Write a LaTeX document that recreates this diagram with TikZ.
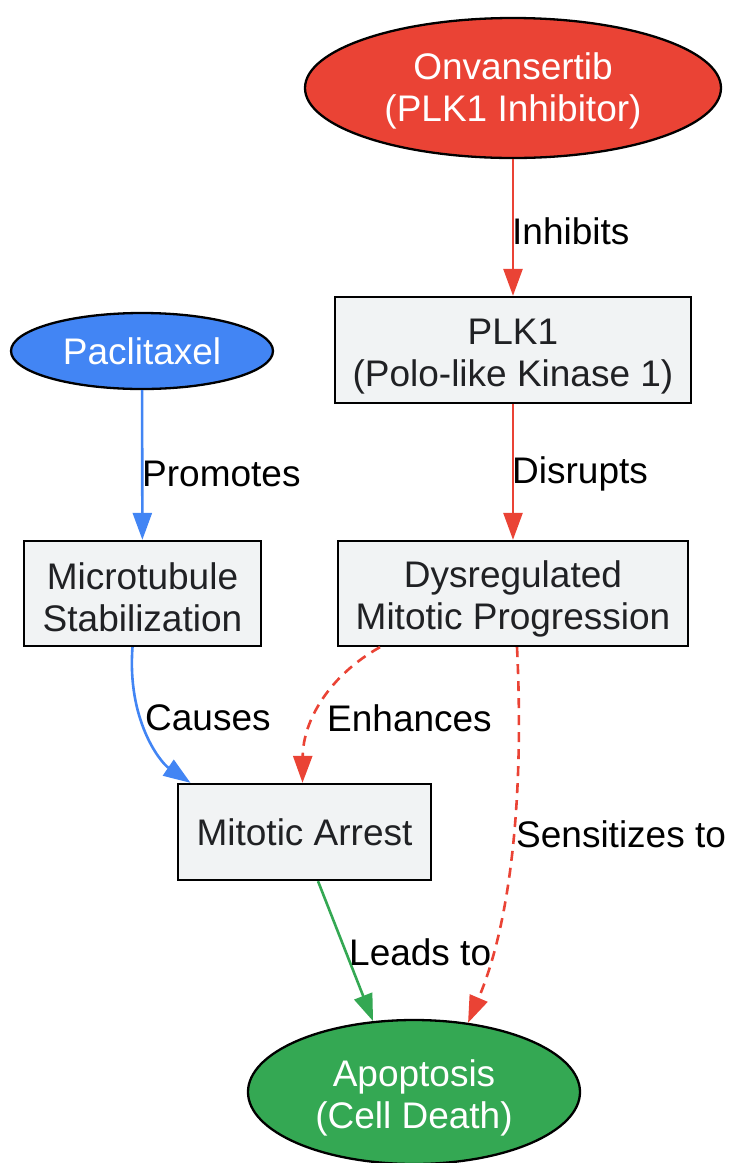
\documentclass[tikz,border=0pt]{standalone}
\usepackage{fontspec}
\setmainfont{Liberation Sans}
\usetikzlibrary{shapes.geometric,arrows.meta}

\definecolor{drugred}{HTML}{EA4335}
\definecolor{drugblue}{HTML}{4285F4}
\definecolor{deathgreen}{HTML}{34A853}
\definecolor{boxgray}{HTML}{F1F3F4}
\definecolor{boxtext}{HTML}{202124}

% 一行目を下げるための支柱
\newcommand{\firstrow}[1]{\rule{0pt}{#1}}

\begin{document}
\begin{tikzpicture}[x=1pt,y=-1pt,
    font=\fontsize{37}{42}\selectfont,
    drug/.style={ellipse, draw=black, line width=2.3pt, text=white, align=center, inner sep=0pt},
    proc/.style={rectangle, draw=black, line width=2.3pt, fill=boxgray, text=boxtext, align=center, inner sep=0pt},
    lbl/.style={anchor=west, inner sep=0pt, text=black},
    link/.style={line width=2.6pt, -{Triangle[length=27pt,width=19pt]}},
    weak/.style={link, dash pattern=on 10pt off 7pt}]
    \useasboundingbox (0,0) rectangle (729,1163);

    % 薬剤
    \node[drug, fill=drugred, minimum width=416pt, minimum height=140pt] (onv) at (513,88) {\firstrow{33pt}Onvansertib\\(PLK1 Inhibitor)};
    \node[drug, fill=drugblue, minimum width=262pt, minimum height=76pt] (pac) at (142,351) {Paclitaxel};

    % 過程
    \node[proc, minimum width=356pt, minimum height=106pt] (plk) at (513,350) {\firstrow{38.5pt}PLK1\\(Polo-like Kinase 1)};
    \node[proc, minimum width=237pt, minimum height=105pt] (mts) at (142.5,593.5) {\firstrow{35pt}Microtubule\\Stabilization};
    \node[proc, minimum width=350pt, minimum height=105pt] (dys) at (513,593.5) {\firstrow{38.5pt}Dysregulated\\Mitotic Progression};
    \node[proc, minimum width=253pt, minimum height=96pt] (arr) at (304.5,832) {Mitotic Arrest};

    % 結果
    \node[drug, fill=deathgreen, minimum width=332pt, minimum height=144pt] (apo) at (414,1092) {\firstrow{38.5pt}Apoptosis\\(Cell Death)};

    % 矢印
    \draw[link, drugred] (onv) -- (plk);
    \draw[link, drugred] (plk) -- (dys);
    \draw[link, drugblue] (pac) -- (mts);
    \draw[link, drugblue] ([xshift=-10pt]mts.south) .. controls (127,720) and (160,762) .. ([xshift=-114pt]arr.north);
    \draw[weak, drugred] ([xshift=-133pt]dys.south) .. controls (330,675) and (303,720) .. ([xshift=-2pt]arr.north);
    \draw[weak, drugred] ([xshift=4pt]dys.south) .. controls (524,790) and (512,920) .. (apo.52);
    \draw[link, deathgreen] ([xshift=13.5pt]arr.south) -- (apo.120);

    % ラベル
    \node[lbl] (l1) at (512,231) {Inhibits};
    \node[lbl] (l2) at (512,474) {Disrupts};
    \node[lbl] (l3) at (142,474) {Promotes};
    \node[lbl] (l4) at (145,718) {Causes};
    \node[lbl] (l5) at (327,718) {Enhances};
    \node[lbl] (l6) at (516,834) {Sensitizes to};
    \node[lbl] (l7) at (349,952) {Leads to};
\end{tikzpicture}
\end{document}
